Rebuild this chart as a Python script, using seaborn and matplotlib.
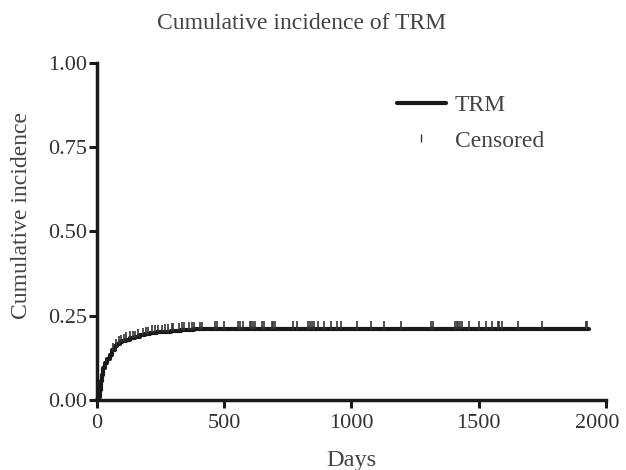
import numpy as np
import pandas as pd
import matplotlib
matplotlib.use('Agg')
import matplotlib.pyplot as plt
import matplotlib.transforms as mtransforms
from matplotlib.lines import Line2D
import seaborn as sns

# 事件时间和累积发生率
event_days = [0, 5, 10, 15, 20, 25, 30, 40, 50, 60, 70, 80, 90, 100, 115, 130,
              150, 170, 190, 210, 235, 260, 290, 330, 380, 430, 1935]
cum_inc = [0.0, 0.01, 0.03, 0.055, 0.075, 0.095, 0.11, 0.122, 0.133, 0.148, 0.16,
           0.167, 0.172, 0.175, 0.179, 0.183, 0.188, 0.192, 0.196, 0.199, 0.201,
           0.203, 0.206, 0.208, 0.210, 0.212, 0.212]

# 删失时间
censor_days = [62, 75, 85, 95, 105, 115, 130, 140, 149, 162, 182, 193, 202, 215, 228,
               241, 254, 267, 280, 293, 300, 323, 333, 342, 363, 372, 381, 405, 411,
               462, 473, 500, 555, 562, 573, 600, 607, 614, 621, 650, 656, 686, 693,
               699, 771, 787, 828, 837, 846, 854, 870, 892, 919, 942, 959, 1020, 1075,
               1128, 1194, 1312, 1321, 1407, 1413, 1420, 1426, 1435, 1463, 1501, 1527,
               1551, 1574, 1581, 1590, 1655, 1750, 1921, 1927]

x_ticks = [0, 500, 1000, 1500, 2000]
y_ticks = [0.0, 0.25, 0.5, 0.75, 1.0]

sns.set_theme(style='ticks')
plt.rcParams['font.family'] = ['Liberation Serif', 'DejaVu Serif']

df = pd.DataFrame({'Days': event_days, 'CI': cum_inc})
idx = np.searchsorted(event_days, censor_days, side='right') - 1
cens = pd.DataFrame({'Days': censor_days, 'CI': np.array(cum_inc)[idx]})

fig = plt.figure(figsize=(6.26, 4.70), dpi=100)
ax = fig.add_axes([0.155, 0.149, 0.813, 0.717])

ink = '#1a1a1a'
sns.lineplot(data=df, x='Days', y='CI', ax=ax, estimator=None, color=ink,
             linewidth=3, drawstyle='steps-post', clip_on=False)
ax.vlines(cens['Days'], cens['CI'], cens['CI'] + 0.022, color='#333333', linewidth=1.2)

ax.set_xlim(0, 2000)
ax.set_ylim(0, 1)
ax.set_xticks(x_ticks)
ax.set_yticks(y_ticks)
ax.set_yticklabels([f'{v:.2f}' for v in y_ticks])
ax.tick_params(axis='both', direction='out', length=6, width=2.2, color=ink,
               labelsize=16, labelcolor='#333333')
ax.tick_params(axis='x', pad=4)
ax.tick_params(axis='y', pad=1)
for s in ['left', 'bottom']:
    ax.spines[s].set_linewidth(2.5)
    ax.spines[s].set_color(ink)
sns.despine(ax=ax)

# 最后一个刻度标签稍向左移，免得被图边裁掉
last = ax.get_xticklabels()[-1]
last.set_transform(last.get_transform() +
                   mtransforms.ScaledTranslation(-6 / 72, 0, fig.dpi_scale_trans))

ax.set_xlabel('Days', fontsize=17.5, color='#444444', labelpad=12)
ax.set_ylabel('Cumulative incidence', fontsize=17, color='#444444')
ax.yaxis.set_label_coords(-0.127, 0.546)
fig.text(0.481, 0.950, 'Cumulative incidence of TRM', ha='center', va='center',
         fontsize=17, color='#444444')

handles = [Line2D([], [], color=ink, linewidth=3),
           Line2D([], [], color='#333333', marker='|', markersize=6, linestyle='none')]
ax.legend(handles, ['TRM', 'Censored'], loc='upper left', bbox_to_anchor=(0.547, 0.97),
          frameon=False, fontsize=17, handlelength=2.1, handletextpad=0.35,
          labelspacing=0.6, labelcolor='#444444')

fig.savefig('out.png', dpi=100)
